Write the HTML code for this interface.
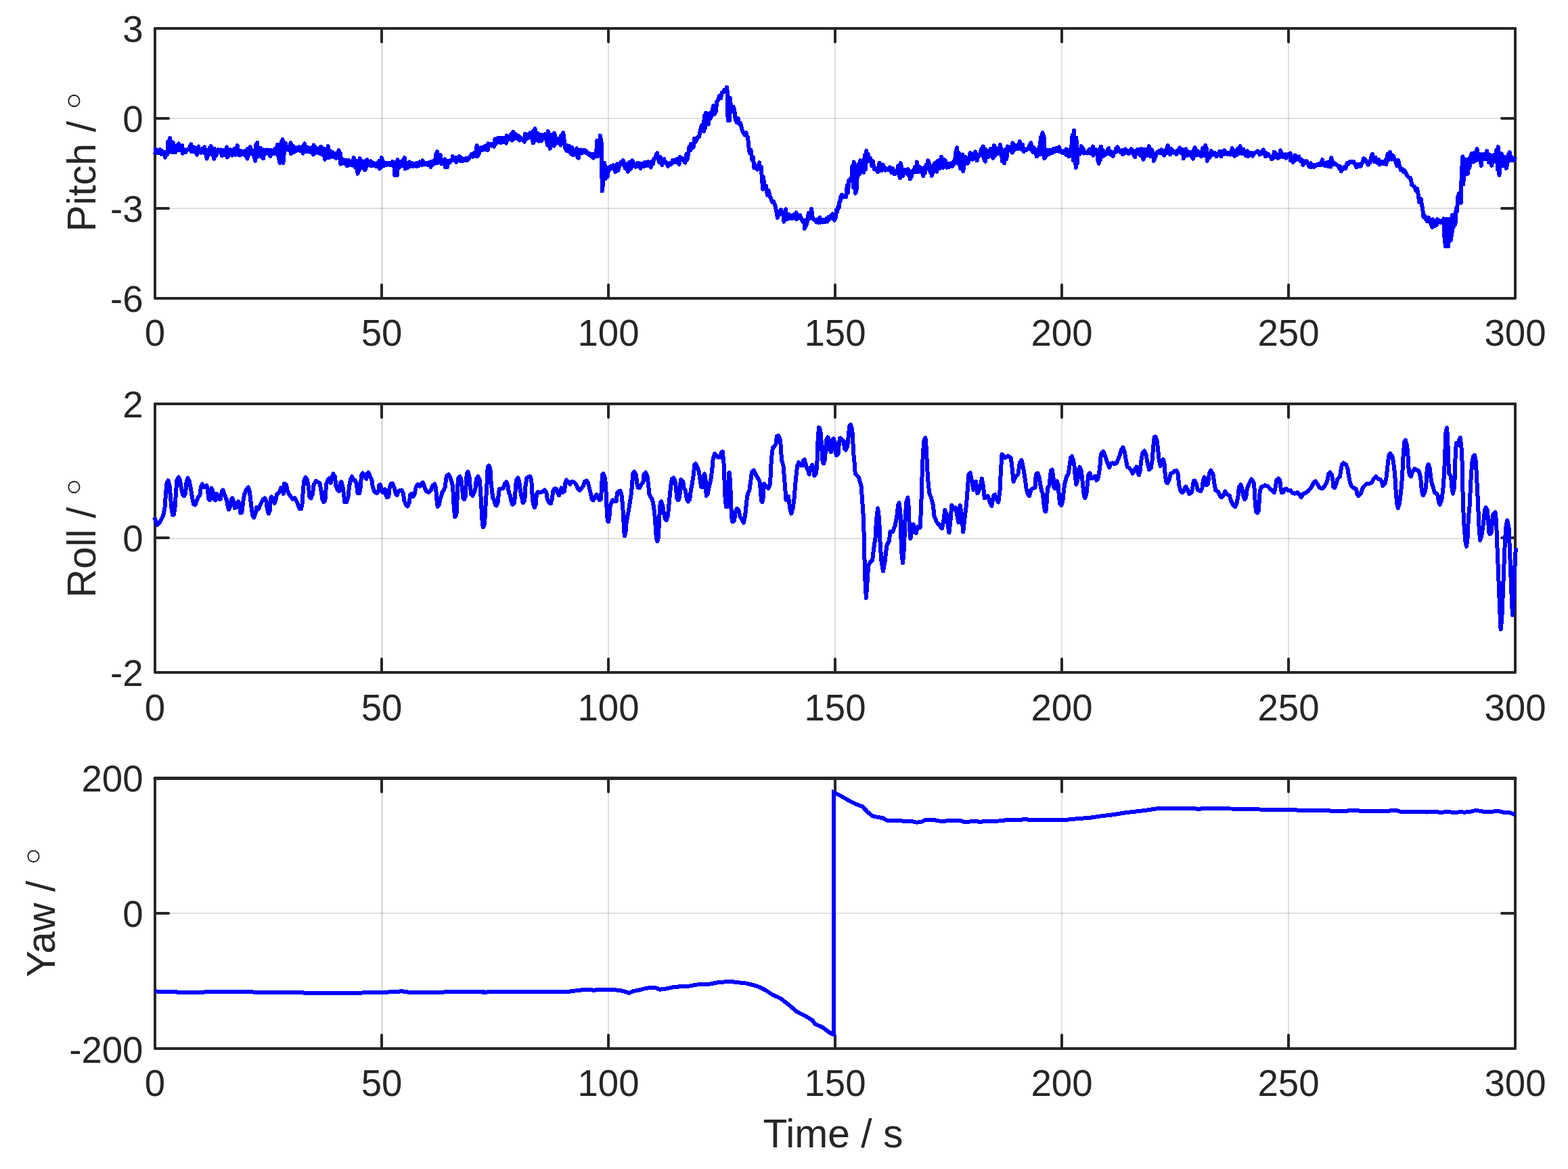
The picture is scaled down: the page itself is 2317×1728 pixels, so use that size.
<!DOCTYPE html>
<html lang="en"><head><meta charset="utf-8"><title>Pitch, Roll and Yaw versus Time</title>
<style>
html,body{margin:0;padding:0;background:#fff;}
body{width:2317px;height:1728px;overflow:hidden;}
svg{display:block;}
text{font-family:"Liberation Sans",Arial,Helvetica,sans-serif;fill:#262626;}
.t{font-size:54.6px;}
.l{font-size:58.8px;}
.d{font-size:71px;font-family:"DejaVu Sans",sans-serif;font-weight:200;fill:#161616;stroke:#fff;stroke-width:0.8px;}
.ax{stroke:#262626;stroke-width:4;fill:none;stroke-linejoin:round;stroke-linecap:round;}
.tk{stroke:#262626;stroke-width:4;fill:none;stroke-linecap:round;}
.gv{stroke:#262626;stroke-opacity:0.15;stroke-width:3;fill:none;}
.gh{stroke:#262626;stroke-opacity:0.15;stroke-width:2;fill:none;}
.c{stroke:#0000ff;stroke-width:6;shape-rendering:crispEdges;fill:none;stroke-linejoin:round;stroke-linecap:butt;}
</style></head><body>
<svg width="2317" height="1728" viewBox="0 0 2317 1728">
<rect x="0" y="0" width="2317" height="1728" fill="#ffffff"/>
<g>
<path class="gh" d="M899 42V441M1234 42V441M1569 42V441M1904 42V441"/>
<path class="gv" d="M564.5 42V441"/>
<path class="gh" d="M229 175H2239M229 308H2239"/>
<path class="tk" d="M564 42v20M564 441v-20M899 42v20M899 441v-20M1234 42v20M1234 441v-20M1569 42v20M1569 441v-20M1904 42v20M1904 441v-20M229 175h20M2239 175h-20M229 308h20M2239 308h-20"/>
<path class="ax" d="M229 42V441H2239V42"/>
<path class="ax" style="stroke-width:4" d="M229 42H2239"/>
<clipPath id="cp0"><rect x="225" y="42" width="2018" height="399"/></clipPath>
<path class="c" clip-path="url(#cp0)" d="M229.3 228.5L230 221.1L232.1 221.6L233.7 226.5L235.5 226.4L236.8 221.2L238.1 227.9L239.3 222.7L240.6 225
L241.9 228.7L243.4 225.2L244.1 232.6L247 224.7L247.6 227.9L248.2 209.2L248.8 224.6L251.1 204.2L251.8 224.3
L254.5 224.8L255.4 210.3L256.3 213.8L257.1 225.3L259.3 225L261.1 215.3L263.4 222.3L264.1 212.2L265.9 221.8
L267.4 216.3L269.3 215.3L270 226.7L272.5 221.3L273.8 225.4L275.1 222.8L276.4 221.3L277.7 220.7L279.1 220.8
L282.2 213.3L282.9 224.5L284.7 224.3L286.2 217.3L287.8 217.9L289 225.9L290.4 218.6L291.1 228.7L293.3 216.5
L294 223.4L296.9 225.7L298.7 219.9L301.5 226L302.2 217.3L305.6 234.6L306.3 222.4L309.1 228.5L310 218.3
L310.9 227.4L311.6 215.9L313.3 220.2L314.6 228.4L316.2 234.6L316.9 219.9L319.2 230.6L321 222.6L322.7 221.2
L324.5 224.4L326.4 221.5L327.8 230.2L329.2 222L330.5 229.1L331.9 221.7L333.3 228.9L335 217.3L335.7 232.6
L338 229.7L339.7 221.3L341.8 222.5L343 229.6L344.1 222.4L345.3 228.1L346.5 219.9L347.7 229L350.8 215.1
L351.5 228.6L354.7 229.5L355.9 222.9L357.1 224.4L358.2 227.8L359.4 223.8L360.6 228.3L362.2 229.8L363.7 222.4
L365.5 234.6L366.2 219.9L369 228L369.7 217.1L371.1 227.3L372.3 221.8L373.5 222.8L374.7 228.7L377.3 237.7
L378 214.7L380.2 211L380.9 231.8L382.5 218.3L383.8 229.9L385.2 218.8L386.5 231.5L389 234.4L389.7 221.4
L391.1 228.1L392.3 222.7L393.4 226.5L394.6 221.5L396.2 222.1L397.7 227.6L399.6 230.9L400.3 221.9L402.1 222.8
L403.6 227.1L405.2 220.8L406.4 227.4L407.5 219.2L408.7 226.5L409.9 213.5L411.1 229.8L413.6 240.8L414.3 214.1
L417.7 206.3L418.4 240.8L420.3 220L421.8 211.5L423.9 220.6L425.2 219.1L426.5 222.2L427.9 216.9L429.5 211.2
L430.2 227.3L431.8 224.9L433.1 216L434.5 225L435.8 218.3L437.3 223L438.8 218.5L440.3 222.3L441.7 217.4
L443.6 223.2L445.4 217.4L447.7 226.7L448.4 216.3L450 212.4L450.7 224.4L452.6 217L454 223.6L455.5 218.2
L457 224.5L458.9 225L460.6 217.8L462.9 228.5L463.6 214.4L465.5 226.1L467 218.4L468.6 220L469.7 226.2L470.9 226
L472.1 219.9L473.5 227.5L474.2 216.5L476.1 220.4L477.5 229.2L479.4 220L480.1 235.8L481.5 221.8L482.6 230.8
L484 233L484.7 216.2L487.3 232.7L488.5 223.4L489.7 225.8L490.8 230.9L492 225.3L493.2 232L495.5 227.1
L496.7 233.8L497.9 233.3L499.1 226L500.5 222.1L501.2 233.8L502.8 226L503.5 242.6L505.4 240L506.8 235.5
L509.6 241.7L510.8 236.8L512.2 237.6L512.9 245.5L515.1 236.5L515.8 243.8L518.7 239.2L520.5 244.6L522.8 233.2
L523.5 243.9L525.3 247.8L526.8 237.7L528.6 256.7L529.3 238.6L531 251.7L531.7 234.1L534 238.2L535.7 247.9
L538.6 238.4L539.3 251.4L541.6 246.3L542.3 236.1L544.7 243.8L546.2 240.6L548 238.2L548.7 245.5L551.6 240.7
L553.4 244.8L555.4 245.9L556.6 241.4L557.8 245.8L558.9 240.6L560.3 237.7L561 249.6L563.3 246.5L564 233.2
L567.1 245.2L568.3 240.3L569.5 240.9L570.7 244.3L571.8 243.9L573 241.1L574.2 241.4L575.4 243.5L576.5 240.6
L577.7 244.3L579.7 244.6L580.4 238.6L582.6 242.5L583.3 259L586.8 259L587.5 236.1L589.7 248L591.5 238.7
L593.9 245.3L595.6 237.3L597.9 233.2L598.6 249.6L600.9 240.7L602.7 247.8L604.9 239.4L605.6 245.8L607.5 245.6
L609 241.3L610.6 246L611.8 241.9L612.9 241.9L614.1 245.4L615.3 245.8L616.4 240.9L618.8 245.3L620 239.3
L621.1 239.9L622.3 243.5L623.7 243.9L624.4 237.3L627 243.3L628.2 241L629.4 241.4L630.5 243.2L631.7 241.1
L632.9 243.9L634.1 240.4L635.2 244.2L636.6 246.7L637.3 238.8L639.8 243.3L641.2 237.2L642.7 241.5L644.2 228.7
L646 224.1L646.7 240.7L649 239.6L650.8 228.9L652.5 242.4L654.3 238.1L657.2 235.3L657.9 247.3L660.7 247.3
L661.4 237.9L664.3 240.7L666 236.6L668.3 237L669 231.2L670.9 233.4L672.4 236.7L674.2 239.7L674.9 232.5
L676.3 237.3L677.5 233.2L678.9 231.2L679.6 237.8L681 238L682.2 233.5L683.4 238.2L684.5 234.7L686.1 235
L687.6 237L689.1 234.1L690.5 237.1L693 234.8L694.8 230.7L697.2 227.8L698.9 231.9L700.7 225.6L702.4 230.6
L704.7 215.1L705.4 231.4L707.7 226.7L709.5 219.5L711.5 218L712.7 221.9L713.9 217.8L715.1 220.6L716.2 216.1
L717.4 220.7L720.6 222L721.3 212.4L724.4 215.3L725.6 213.3L726.8 215.4L728 213.5L729.4 213L730.1 216.8
L731.5 205.5L732.6 213.1L733.8 210.9L735 204.2L736.2 205.2L737.3 209.8L738.5 203.8L739.7 211.3L740.8 204.5
L742 210L743.2 203.6L744.4 210.3L745.5 203.6L746.7 209.3L748.1 211.5L748.8 200.4L750.2 207.4L751.4 201.9
L752.6 205.5L753.8 201.4L755.8 197.5L756.5 207.6L758.1 195L758.8 205.8L762 198.2L763.2 204.5L764.3 204.8
L765.5 200.4L766.9 201.1L767.6 207.6L770.5 204.6L772.3 207L775.1 209.7L775.8 197.7L777.2 200.2L778.4 205.2
L779.6 204.6L780.8 198.8L782.8 196.6L784.6 203.3L786.9 194.4L787.6 211.5L789.8 208.2L790.5 190.1L792.1 207.2
L793.4 196.3L794.8 197.1L796.1 208.8L798.1 198.9L799.8 208.6L801.6 199.3L803.4 205.2L805.1 198.2L806.9 204
L809.2 214.9L809.9 194.2L812.1 201.1L812.8 219.7L814.7 199.4L816.1 212.2L818.6 215.6L819.3 196.6L821.5 212
L823.3 204.9L825.2 204.9L826.7 212L828.5 214.4L829.2 200.4L831.5 212.1L832.2 196.2L834 209.5L835.5 219.7
L837.1 222.5L838.3 214.9L839.5 223L840.6 217L841.8 216L843 226.6L844.1 227.9L845.3 217.7L847.4 229.1
L849.1 222.4L852 219.4L852.7 231.4L854.9 233.8L855.6 222.3L858.2 221.5L859.4 226.5L860.6 221.8L861.8 225
L862.9 224L864.1 221.6L865.3 225.7L866.4 223.5L867.6 225.1L868.8 227.5L870 228.7L871.1 226.8L872.3 227.6
L873.5 230.9L876.1 227.9L876.8 233.8L879.9 230.6L881.1 226.1L882.5 207.7L883.2 231.4L886.1 225.9L886.8 200.4
L889 213.3L889.7 282.5L891.1 271.3L892.3 240.7L893.4 241.1L894.6 264.3L896.4 247.7L897.6 261.3L898.7 253.8
L899.9 247.5L901.5 250L903 245.5L905.4 248.9L906.1 244.1L909.5 254.3L910.2 250.5L912.1 242.3L913.5 252
L915.5 244.2L917.2 240.1L920.1 243.4L920.8 237.3L923.7 248.5L925.4 242.3L927.7 253.7L928.4 246.4L929.8 240.1
L931 250.7L933.6 246L934.3 237.3L937.2 243.5L939 246.7L941.8 245.9L942.5 240.6L943.9 242.5L945.1 245.8
L946.5 248.7L947.2 241.6L948.6 246.3L949.8 241.7L951 246.3L952.1 240.4L953.8 239.8L955.2 245.1L956.8 244.1
L958 239.1L959.2 244.6L960.4 239.8L961.8 247.5L962.5 239.4L964.8 242.4L966.5 234.4L968.6 233.5L969.7 228.5
L971.2 226.3L971.9 232.3L974.1 240L975.9 232L978.2 244.4L978.9 238L981.2 235.1L981.9 239.8L983.4 239.1
L984.7 241.9L986.3 241.5L987 245.6L990.1 240.6L991.9 243L994 236.8L995.2 240L996.5 239.2L997.8 236.6
L999.1 239.7L1000.3 235.2L1003.7 242.7L1004.4 232.2L1007.5 233.7L1009.3 235.8L1012.4 240.5L1013.1 234.5
L1014.4 227.8L1015.5 236.2L1017.1 227.1L1018.6 216.6L1020.4 221.8L1021.1 213L1023.8 218.4L1024.9 216.5
L1026 204.9L1027.1 210.5L1029.3 206.5L1031.1 202.7L1032.9 202.6L1034.7 193.2L1036.7 185.5L1038.2 192.8
L1040 194L1040.7 171L1042.2 189.2L1042.9 166.8L1045.4 171.2L1046.9 183.8L1048.3 167.5L1049.8 175.3
L1051.3 170.8L1052.7 162.5L1054.2 156.1L1055.6 169.2L1057.6 165.2L1059.4 149.9L1061.2 147.9L1063 141.8
L1064.9 145.4L1066.7 137.1L1068.5 136.7L1070.3 132.7L1073.4 135.7L1074.1 129.1L1074.9 136.1L1075.6 178.1
L1077.8 178.1L1078.5 144.3L1079.8 154.6L1080.8 163.4L1082.5 165.2L1083.9 157.9L1085.4 164.7L1086.8 177.3
L1088.8 180.7L1090.6 175.1L1092.6 183.6L1094.1 181.7L1095.6 188.1L1097 193.2L1099.2 197.7L1100.6 199.5
L1102.5 196.2L1103.2 200.6L1105 202.8L1106.4 217.6L1107.9 226.6L1109.4 221.5L1111.5 236.9L1113 232.9
L1114.4 248.5L1115.9 244.5L1118.4 244.7L1119.1 250.7L1122.1 240.2L1122.8 248.7L1124.8 246.8L1125.9 263.7
L1127.2 279.7L1127.9 261.1L1130.2 279L1132 275L1133.9 288.6L1135.7 281.4L1137.5 290.2L1139.3 293.7
L1141.1 298.5L1142.9 297.7L1145.7 304.6L1147.1 311.9L1148.9 321.9L1149.6 313.4L1151.2 313L1152.5 316.9
L1154 309.9L1154.7 315.3L1157.7 314.1L1158.4 327.7L1161.3 309.2L1162 324L1164.6 323.6L1165.9 316.9
L1167.2 322.4L1168.4 318.8L1169.7 323.2L1171 318.7L1172.8 317.5L1174.4 322.6L1176.5 314.3L1177.2 324
L1180.3 320.1L1182.1 318.2L1184 323L1185.8 327L1188.2 325.5L1188.9 337.8L1192.1 331.6L1193.6 321.2L1195 315
L1196.5 323.3L1198.3 318.9L1199 308.5L1200.9 322.6L1202.3 324.4L1205.3 325.7L1206.6 328.6L1207.8 324.3
L1209.1 328.9L1210.7 329.4L1211.4 321.5L1212.9 328.4L1214.2 324.8L1215.5 328.6L1216.7 325.7L1218.3 324.8
L1219.7 327.7L1221.2 323L1222.6 327.6L1224.1 321.1L1225.5 324.1L1227 321.3L1228.4 318.4L1230.1 316.2
L1230.8 322.9L1232.5 320.1L1233.2 325.7L1234.7 321.9L1235.9 310.4L1237.1 313L1238.3 306L1239.7 306.6
L1240.6 297.8L1241.5 298.3L1242.4 290.4L1244 288L1244.7 291.9L1247.4 289.8L1248.6 291L1250.1 291.3
L1250.8 285.1L1251.8 274.1L1252.7 285.6L1253.6 276.2L1254.5 266.5L1255.9 267.6L1257.1 263.6L1258.3 264.8
L1259.5 245.2L1261 277.1L1261.7 239.4L1263.4 246.4L1264.1 285.8L1265.7 279.7L1266.6 248.5L1267.5 261.3
L1268.4 242.6L1270.6 256.8L1271.3 237.2L1272.8 241.2L1274 251.9L1275.5 242.4L1276.2 254.9L1277.7 229.6
L1278.9 250.1L1280.3 223L1281 239.2L1282.5 227.4L1283.7 235.4L1284.9 238.4L1286.1 233.5L1288.5 245.2
L1289.8 238.2L1291 246.2L1292.2 250.5L1294.6 249.5L1295.8 252.1L1297.3 254.3L1298 248.7L1299.7 240.6
L1300.4 252.5L1302.8 252.2L1304.6 243.3L1306.4 247.9L1308.2 251.8L1310 249.3L1311.8 251L1314.2 250.8
L1314.9 247.2L1317.3 255.1L1319.1 248.9L1321.5 257.4L1322.2 252.8L1324.9 255.9L1326.1 251.1L1327.3 244.6
L1328.5 257.5L1330 263.4L1330.7 241.2L1332.6 248.6L1334.1 260.2L1335.7 254.3L1337 250.9L1338.2 255.3
L1339.4 251.7L1340.8 257.5L1341.5 250.2L1343.9 254.2L1344.6 264.6L1346.5 261.9L1348 253L1350 254.8
L1351.8 246.8L1354.2 254L1354.9 239.4L1357.2 254.2L1359 246.7L1361 248.2L1362.5 253.9L1364.4 260.4
L1365.1 248.4L1367.1 255.3L1368.6 243.8L1370.5 247.4L1371.2 237.2L1373.3 242.6L1374.5 254.1L1375.9 246.2
L1376.6 259.8L1378.6 255.3L1380.1 243.8L1381.7 240.7L1383 248.7L1384.4 253.7L1385.1 238.6L1387 237.2
L1388.5 249.2L1391.1 231.5L1391.8 247.2L1393.7 247.9L1395.2 235.5L1397.2 237.5L1399 247.7L1401.1 241.6
L1402.3 247.3L1403.5 245.6L1404.7 242.3L1405.9 241.3L1407.2 245.7L1409 243L1410.2 236.8L1411.4 234.8
L1412.6 223.2L1414.1 218.2L1414.8 240.7L1416.8 225.7L1418.1 244.4L1419.3 249.5L1420.5 232.1L1422.5 228.5
L1423.2 253.1L1425.2 240.2L1426.7 232.3L1429.2 234.4L1429.9 241.6L1432.8 234.3L1433.5 226L1436.5 227.8
L1437.2 235.6L1440.7 233L1441.4 224.2L1443.7 237.4L1444.4 228.6L1446.9 230.6L1448.5 226.7L1450.1 219.9
L1451.3 229.6L1452.8 216.4L1453.5 233.1L1455.8 238.6L1456.5 220.8L1459.1 225.9L1460.6 232.1L1462.1 230.7
L1463.6 220L1466.7 219.7L1467.4 233.8L1469.1 215.1L1469.8 230.8L1472.2 219L1474 226.9L1477 227.5L1477.7 213.9
L1479.6 222.2L1481 238L1483.5 222.3L1484.2 241.4L1486.2 220.8L1487.3 235.3L1488.7 216.5L1489.4 223.4
L1491.7 217.5L1493.5 222.9L1495.8 225.6L1496.5 211.2L1498.8 222L1500.5 214.8L1502.3 214.6L1504.1 220.4
L1506.9 209.1L1507.6 218.8L1509.5 220.8L1510.9 213.7L1512.8 224.4L1513.5 221.1L1516.4 222.2L1518.1 219.9
L1520 220.4L1521.5 214.6L1523.4 211.2L1524.1 219.6L1526.4 225L1528.1 218.3L1531 225.1L1531.7 231.4
L1534.3 228.9L1535.5 217.9L1536.6 224.7L1537.8 203.3L1539.8 228.4L1540.5 196.2L1542.7 203L1543.4 234.4
L1544.8 231.4L1546 221.2L1547.2 229.2L1548.4 221.9L1549.5 222.2L1550.7 227.6L1551.9 221.7L1553.1 226.5
L1554.2 225.9L1555.4 220.9L1556.6 220.1L1557.8 224.6L1558.9 223.6L1560.1 219.1L1561.7 219.1L1563.2 223.4
L1565 217.3L1565.7 224L1568 222.4L1569.8 226.1L1571.5 223.5L1573.3 226.8L1575.6 220.4L1576.3 229.5L1579.1 222
L1579.8 231.4L1582 226.7L1582.8 216.5L1583.7 219.2L1584.6 199.4L1586.2 237.2L1586.9 193L1589.7 247.9
L1590.4 203.7L1591.8 241.6L1593 222.8L1594.1 220.8L1595.3 228.3L1597.3 222.8L1598 216.2L1600.8 220.4
L1601.5 226.7L1603.4 224.5L1604.9 226.4L1606.8 226.6L1608.5 222.5L1610.3 220.6L1612 227.3L1614.9 216.5
L1615.6 229.7L1618.8 220.6L1620 227.3L1621.1 224L1622.3 236.8L1623.7 241.7L1624.4 220.3L1626.1 236.1
L1626.8 216.5L1628.2 231.9L1629.4 221.3L1631.4 230L1633.2 225L1635.1 227.5L1636.6 221.6L1638.4 219.2
L1639.1 227.8L1641 223.8L1642.4 228.8L1644.9 230.9L1645.6 225L1648.1 225.1L1649.3 219.3L1650.7 224
L1651.4 217.3L1653.7 221.8L1655.5 225L1658.4 222.2L1659.1 228.5L1662.5 225.4L1663.2 220.3L1664.6 225.3
L1665.8 222.5L1667.2 222.5L1667.9 227.3L1670.7 225.4L1671.4 220.3L1673.8 222.8L1675.3 228.7L1677.1 232
L1677.8 224.1L1681 220.6L1682.2 227.3L1683.4 221.4L1684.5 227.8L1685.7 230.2L1686.9 220.1L1689.5 235.8
L1690.2 221.1L1692.5 220.6L1694.2 230.3L1697.1 225.9L1697.8 216.2L1700.1 231.4L1701.8 221.2L1704.1 228.5
L1704.8 237.9L1707.7 231L1709.5 225.2L1711.2 226.2L1713 222.9L1715.3 226.5L1716 221.2L1719.4 222.8
L1720.1 229.7L1721.9 227.8L1723.4 220.7L1725.9 215.1L1726.6 224.7L1728.8 228.5L1729.5 219.6L1732.6 222.4
L1733.8 225.6L1735 226.2L1736.2 224.1L1737.6 224.7L1738.3 228.5L1739.7 225.3L1740.8 222L1742.3 223.1
L1743 218.3L1745.5 226.3L1746.7 220.5L1748.1 223.4L1748.8 234.4L1752.2 220.3L1752.9 230.5L1755.8 224.3
L1757.6 228.9L1759.5 224.7L1760.9 230.9L1762.8 234.6L1763.5 222.4L1765.7 218L1766.4 230.2L1769.5 222.9
L1770.9 229.2L1772.2 225.1L1773.5 229L1775.1 231.4L1775.8 225.6L1777.2 218.7L1778.4 228L1780.4 229.8
L1781.1 215.1L1783.3 220.8L1784 237.9L1785.9 227.5L1787.4 233.3L1789.8 223.2L1790.5 228.8L1792.8 228.6
L1794.6 225.8L1796.8 227.1L1797.5 231.4L1800.4 227.8L1802.2 223.7L1804.5 231.4L1805.2 223.6L1808.6 228.2
L1809.3 222.4L1812.5 226.7L1813.6 227.7L1814.8 226.5L1816 227.9L1817.1 225.8L1818.3 228.6L1820.9 219.2
L1821.6 228.3L1824.4 230.6L1825.1 222.9L1827.7 228.7L1828.9 220L1830.1 227L1831.2 219.1L1832.6 216.2
L1833.3 225.9L1835.6 227.3L1837.4 220.6L1839.2 227.1L1840.9 230.3L1843.2 223.2L1843.9 231.4L1846.2 229.1
L1848 225.9L1850.3 226.5L1851 230.9L1853.2 227L1855 225.1L1857.3 225.3L1858 223.2L1860.8 224.7L1861.5 228.5
L1863.1 226.8L1864.5 223.8L1866.1 226.5L1866.8 221.2L1870.2 231.4L1870.9 226.1L1873.8 227.6L1875.6 230.4
L1878.4 232.8L1879.1 235.5L1881.9 233.1L1882.6 224.7L1885.1 226.9L1886.6 229.3L1888.4 233.8L1889.1 229
L1891.3 231.8L1892 222.4L1894.6 227.8L1895.8 231.9L1897 231.6L1898.1 228.9L1899.6 228.3L1900.3 233.8
L1902.5 229.4L1904.3 227.9L1906.6 226.5L1907.3 237.4L1910.1 232.3L1910.8 239.7L1913.6 229.4L1914.3 236.8
L1915.8 231.4L1916.9 235.5L1918.1 234.9L1919.3 231.5L1921.3 237.6L1923.1 236.1L1925.4 243.8L1926.1 237.9
L1928.9 240.9L1930.7 238.1L1933.1 242.5L1934.8 246.6L1937.1 241.5L1937.8 247L1940.4 244L1941.6 246.8
L1942.7 244L1943.9 245.3L1945.1 244.7L1946.3 243.2L1947.4 244.1L1948.6 242.9L1949.8 242.1L1951 244
L1954.1 236.1L1954.8 243.3L1957.7 245.2L1959.5 240.3L1961.5 240.3L1962.7 245.8L1963.9 244.2L1965.1 238.7
L1966.5 246.7L1967.2 233.2L1969.7 243.2L1970.9 240L1972.1 243.4L1973.3 241.9L1974.4 243.1L1975.6 244.2
L1976.8 244.7L1978 246.3L1979.3 249.1L1980.1 245.8L1981 247.5L1981.7 253.2L1984.3 249.6L1986.1 247.1
L1988.3 248.7L1989.6 244.8L1990.9 240.7L1992.2 242.6L1994.4 240.3L1995.1 239L1996.8 240.2L1998.3 239.3
L2000.1 239L2000.8 240.3L2004.5 247.4L2005.2 243.4L2007.9 242.8L2009.5 246.2L2011.2 244.9L2012.5 241
L2014.1 239.6L2014.8 234.2L2016.8 235.6L2018.4 237.6L2021.7 243.6L2022.4 240.7L2024.4 240.4L2026 232.7
L2028 227.8L2028.7 234.9L2030.8 239.3L2032.4 232.6L2033.9 237.7L2035.5 241.1L2037.6 236.2L2038.3 243
L2040.3 242.5L2041.9 239.5L2043.5 239L2045.1 242.4L2047.7 236.2L2048.4 243L2050.6 227.8L2051.9 236.4
L2053.5 235.1L2054.2 224.8L2056.7 235.6L2058.5 229.9L2060.5 234.6L2062.3 238.5L2064.4 245.3L2066.2 236.7
L2068.2 246.2L2070 251.1L2072 249.9L2073.8 253.8L2075.9 252.3L2077.5 255.2L2079.1 259.6L2080.7 261.2
L2082.4 263.2L2083.7 262.6L2085 265.8L2086.2 273.4L2088.5 274.8L2090.3 275.9L2092.4 281.9L2094 279
L2095.6 286.9L2097.2 298.7L2099.6 293.9L2100.8 302.5L2102.1 307.5L2103.4 320.7L2105.1 318.7L2106.7 323.5
L2108.8 327.2L2110.6 321.4L2112.8 325.2L2114.3 331L2116.4 335.8L2117.1 324.2L2119.1 326.7L2120.7 333.9
L2123.4 331.5L2124.1 324.2L2126.6 326L2128.4 328.9L2131.5 325.6L2132.5 329.9L2133.4 323.2L2134.4 350.1
L2136.1 364.4L2136.8 323.9L2139.3 323.9L2140 364.4L2142 323.7L2143.6 355.6L2145.6 343.4L2146.3 317.8
L2147.9 335.6L2149.1 323.7L2150.4 331.6L2151.7 308L2153 312.9L2154.2 291.2L2156.1 285.6L2157.4 297.5
L2159 299.6L2159.7 255.7L2161.5 231.4L2162.2 272.5L2164.8 235.9L2166.6 257.6L2168.8 257L2170.1 235.2
L2171.4 247.9L2172.7 232.2L2174.9 227.2L2176.7 239.6L2179 225.9L2180.3 237.7L2181.8 234.5L2182.5 220
L2185.2 236.4L2186.8 227.8L2188.8 244.9L2189.5 229.3L2192.1 227.7L2193.9 235.3L2196.5 234.3L2197.2 223.1
L2199.8 239.9L2201.4 229.4L2203.5 229.6L2204.2 244.9L2206.8 229.2L2208.4 238.2L2210.2 237.6L2211.4 221.5
L2213 250.7L2213.7 217.2L2215.5 258.9L2216.2 231.1L2218.7 227L2219.4 245.3L2222.2 244.6L2223.5 232.3
L2225.1 233.1L2225.8 248.7L2228 238.6L2229.2 228.2L2230.8 225L2231.5 236.8L2233.5 232.2L2235.1 237.1
L2237.3 236L2238.9 232.1"/>
<text class="t" x="229" y="510.7" text-anchor="middle">0</text>
<text class="t" x="564" y="510.7" text-anchor="middle">50</text>
<text class="t" x="899" y="510.7" text-anchor="middle">100</text>
<text class="t" x="1234" y="510.7" text-anchor="middle">150</text>
<text class="t" x="1569" y="510.7" text-anchor="middle">200</text>
<text class="t" x="1904" y="510.7" text-anchor="middle">250</text>
<text class="t" x="2239" y="510.7" text-anchor="middle">300</text>
<text class="t" x="211.5" y="61.7" text-anchor="end">3</text>
<text class="t" x="211.5" y="194.7" text-anchor="end">0</text>
<text class="t" x="211.5" y="327.7" text-anchor="end">-3</text>
<text class="t" x="211.5" y="460.7" text-anchor="end">-6</text>
<text class="l" transform="translate(141 342.4) rotate(-90)">Pitch / <tspan class="d" dx="-4.1" dy="10.4">°</tspan></text>
</g>
<g>
<path class="gh" d="M899 597V994M1234 597V994M1569 597V994M1904 597V994"/>
<path class="gv" d="M564.5 597V994"/>
<path class="gh" d="M229 796H2239"/>
<path class="tk" d="M564 597v20M564 994v-20M899 597v20M899 994v-20M1234 597v20M1234 994v-20M1569 597v20M1569 994v-20M1904 597v20M1904 994v-20M229 795h20M2239 795h-20"/>
<path class="ax" d="M229 597V994H2239V597"/>
<path class="ax" style="stroke-width:4" d="M229 597H2239"/>
<clipPath id="cp1"><rect x="225" y="597" width="2018" height="397"/></clipPath>
<path class="c" clip-path="url(#cp1)" d="M228 764.8L230 769.8L232.5 775.8L236 772.8L239 766.8L241.5 760.8L243.5 749.9L245 729.9L246.5 713.9L248.5 710.4
L250.5 717.9L252 734.9L253.5 751.9L255 761.3L257 760.8L258.5 749.9L260 727.9L261.4 709.9L263.9 705.4
L265.9 709.9L267.9 721.9L269.9 730.9L271.9 733.4L273.9 729.9L275.4 713.9L277.4 706.4L279.9 711.9L281.9 721.9
L283.9 734.9L285.9 744.9L288.4 746.4L290.9 739.9L292.9 734.9L295.4 731.9L296.9 719.9L298.9 715.4L301.4 719.9
L302.9 718.9L305.4 717.4L306.9 723.9L308.4 737.9L309.9 739.4L311.4 727.9L312.4 721.4L314.4 725.9L315.9 736.9
L318.4 739.4L319.9 729.9L321.9 732.9L323.9 737.9L325.9 737.9L327.9 725.9L329.4 724.4L331.4 729.9L333.3 734.9
L335.3 739.9L336.8 749.9L338.3 753.4L340.3 747.9L341.8 737.9L343.3 736.4L345.3 741.9L346.8 750.9L349.3 749.9
L350.8 742.9L352.3 741.4L354.3 749.9L355.3 758.3L357.3 757.8L358.8 744.9L360.8 731.9L363.8 723.9L366.8 720.4
L368.8 725.9L370.3 739.9L371.8 751.9L373.3 761.8L375.3 765.3L377.3 759.8L379.3 749.9L381.8 752.9L383.8 747.9
L386.3 742.9L388.8 737.9L391.3 736.4L393.3 739.9L394.8 751.9L396.8 759.3L398.8 754.9L399.8 736.9L401.3 734.4
L403.7 739.9L405.7 743.9L407.7 737.9L409.2 729.9L411.7 728.9L413.7 725.9L415.2 720.9L417.2 721.9L418.7 729.9
L420.2 714.9L422.7 715.9L424.7 724.9L426.7 729.9L429.7 733.9L432.7 737.9L435.7 735.9L437.7 739.9L440 744.9
L442.5 751.9L445 752.4L446.5 744.9L447.5 729.9L449 711.9L451.5 705.4L454 709.9L456 719.9L457.5 734.9
L459.5 736.4L462 729.9L463.5 716.9L467 710.9L470 712.9L472.4 713.9L474.4 724.9L476.4 737.9L478.4 742.4
L480.4 739.9L481.4 724.9L482.4 714.9L484.9 708.9L486.9 706.9L488.9 713.9L490.4 705.9L492.4 700.4L494.9 704.9
L496.4 717.9L498.9 723.9L500.9 726.4L502.9 713.9L504.4 712.4L506.4 718.9L507.9 729.9L509.4 742.4L511.9 742.4
L514.4 734.9L515.9 719.9L517.9 708.9L519.9 704.4L522.4 709.9L524.9 709.9L526.9 714.9L528.4 728.9L530.9 729.4
L532.9 719.9L533.9 702.9L535.9 699.4L538.9 702.9L541.4 707.9L542.8 699.9L544.3 698.4L546.8 703.9L549.3 708.9
L550.8 719.9L553.3 726.9L556.8 729.4L559.3 725.9L560.3 716.9L561.8 716.4L563.8 721.9L565.3 727.9L566.8 725.9
L568.8 723.4L570.3 731.9L571.8 735.4L574.3 733.9L575.8 719.9L577.8 714.9L579.8 714.4L582.3 719.9L584.8 729.9
L586.8 731.9L588.8 725.9L593.3 724.4L595.8 728.9L597.3 739.9L599.8 745.9L602.3 748.4L604.8 742.9L606.3 730.9
L608.3 729.9L610.8 733.9L612.8 729.9L614.7 719.9L617.7 715.9L620.7 718.9L623.7 713.9L625.2 713.4L627.2 719.9
L629.7 725.9L633.2 727.9L636.7 724.9L639.2 717.9L642.2 715.4L644.2 721.9L645.2 737.9L646.7 748.9L648.7 745.9
L651 735.9L653.5 727.9L656 723.9L658 718.9L659 707.9L660.5 702.9L662.5 701.4L665 704.9L667 710.9L669 717.9
L670 735.9L671 754.9L672.5 764.3L674.5 759.8L675.5 739.9L676.5 714.9L677.5 705.9L679.5 704.4L681.4 708.9
L682.9 721.9L684.4 735.9L685.9 738.4L687.9 732.9L688.9 709.9L689.9 699.9L691.4 697.4L693.4 703.9L694.9 719.9
L696.4 730.9L698.4 732.9L700.9 727.9L702.9 719.9L703.9 707.9L706.4 704.4L708.9 709.9L709.9 724.9L710.9 739.9
L711.9 759.8L712.9 774.8L713.9 779.3L715.9 774.8L716.9 759.8L717.9 739.9L719.4 719.9L719.9 699.9L720.9 689.9
L722.4 688.4L724.4 692.9L725.4 709.9L726.9 724.9L728.4 735.9L730.4 739.9L731.9 745.9L733.4 747.4L735.4 743.9
L736.9 729.9L737.9 722.9L740.9 722.4L743.9 721.9L745.9 714.9L748.4 712.4L750.4 717.9L751.9 727.9L753.8 731.9
L755.3 739.9L757.3 745.9L759.8 743.9L761.3 729.9L762.8 709.9L765.3 706.4L767.3 711.9L768.8 724.9L770.8 734.9
L772.8 743.4L775.3 739.9L776.3 719.9L778.3 706.9L780.8 704.9L783.3 704.4L785.3 709.9L786.3 727.9L787.8 744.9
L789.8 750.4L791.8 745.9L792.8 729.9L794.8 727.4L798.8 727.9L801.8 726.9L804.8 724.4L807.3 727.9L808.8 737.9
L811.3 742.9L813.8 744.4L815.8 737.9L817.3 725.9L819.3 722.4L821.8 722.4L824.2 728.9L826.2 732.4L827.7 725.9
L829.7 720.9L831.7 727.9L834.2 725.9L835.2 713.9L837.2 709.4L839.7 712.9L842.2 715.9L845.2 711.9L848.7 712.9
L851.7 716.9L854.2 722.9L856.7 724.9L859 721.9L862 717.9L864 711.9L866.5 710.4L869 713.9L871 721.9L873 729.9
L874.5 737.9L876.5 739.4L879 735.9L881.5 730.9L884 734.9L886 739.4L888 737.9L889 719.9L890 701.9L891.4 699.9
L893.4 704.9L894.9 714.9L895.9 734.9L896.9 759.8L897.9 769.8L898.9 771.3L900.4 764.8L901.4 749.9L902.9 743.9
L905.4 738.9L907.9 740.9L910.9 740.9L911.9 728.9L913.9 726.4L916.4 725.4L918.4 730.9L919.9 744.9L920.9 759.8
L921.9 779.8L922.9 792.3L924.4 787.8L925.4 774.8L926.9 764.8L928.9 754.9L930.9 741.9L932.9 729.9L934.4 711.9
L935.4 699.9L937.4 697.4L939.9 701.9L941.4 714.9L942.9 720.9L944.9 721.4L947.9 715.9L950.4 712.9L951.4 701.9
L953.9 698.4L956.4 702.9L957.9 714.9L959.4 729.9L961.4 734.9L963.8 737.9L965.8 747.9L967.3 759.8L968.8 779.8
L969.8 794.8L971.3 800.3L972.8 794.8L973.8 774.8L974.8 754.9L975.8 742.9L977.3 741.4L979.3 747.9L980.8 757.8
L982.8 766.8L984.8 769.3L986.8 762.8L988.3 747.9L989.8 731.9L991.3 717.9L992.8 707.9L995.3 706.4L997.8 711.9
L999.3 724.9L1000.3 736.9L1002.3 739.4L1004.3 734.9L1005.3 714.9L1006.3 708.9L1009.3 711.9L1010.8 721.9
L1012.8 724.9L1014.8 737.9L1016.8 741.4L1019.3 737.9L1020.8 724.9L1022.8 714.9L1024.8 701.9L1026.3 686.9
L1027.8 685.5L1030.3 689.9L1032.8 696.9L1034.7 709.9L1036.2 719.9L1038.2 719.9L1039.2 703.9L1041.2 700.4
L1042.7 709.9L1043.7 732.9L1045.7 729.9L1047.7 719.9L1050.2 709.9L1052.2 694.9L1053.7 678L1056.2 670.5
L1058.7 674L1062.2 676.5L1064.7 676L1065.7 669L1067.7 667.5L1069.5 684.9L1070.5 709.9L1071.5 734.8L1073 749.3
L1075 748.8L1076 719.8L1077.5 698.4L1079 709.9L1080 739.8L1081 764.8L1082.5 771.3L1085 769.8L1086.5 757.8
L1089 751.8L1091.5 753.8L1093.5 763.8L1096 766.8L1099 772.8L1101.4 759.8L1103.4 739.8L1104.9 729.8
L1107.4 724.8L1109.4 709.9L1110.9 697.9L1113.9 695.4L1116.9 701.9L1119.9 706.9L1122.4 710.9L1123.9 724.8
L1124.9 739.8L1126.4 742.3L1127.9 734.8L1127.9 717.8L1129.4 715.4L1132.4 719.8L1135.4 721.8L1137.9 715.9
L1138.9 699.9L1139.9 677.9L1141.9 661.9L1144.9 658.9L1146.4 656.9L1147.9 645L1149.9 644L1152.4 647.9
L1153.9 659.9L1154.9 679.9L1157.4 687.9L1158.9 704.9L1160.4 724.8L1161.4 738.8L1164.9 733.8L1166.4 744.8
L1167.9 754.8L1169.4 759.3L1171.9 749.8L1173.8 734.8L1175.3 714.9L1176.8 699.9L1178.3 687.9L1180.3 683.4
L1183.3 687.9L1186.3 687.9L1187.3 679.9L1188.8 679.4L1190.3 684.9L1191.8 690.9L1194.3 695.9L1195.8 701.4
L1197.8 690.9L1200.3 687.4L1202.3 694.9L1203.3 703.4L1205.8 699.9L1207.3 689.9L1207.8 669.9L1208.8 645
L1210.3 631.5L1212.3 636L1213.8 654.9L1215.3 679.9L1216.8 685.4L1218.8 679.9L1220.3 659.9L1221.3 649.9
L1223.3 646.4L1225.3 651.9L1226.3 665.9L1228.3 668.4L1229.8 659.9L1230.3 649.9L1231.8 648.4L1233.8 653.9
L1234.8 669.9L1236.3 673.4L1238.8 669.9L1239.8 654.9L1241.3 647.4L1244.7 650.9L1246.7 651.9L1248.2 663.9
L1249.7 665.4L1252.2 659.9L1253.7 645L1255.2 630L1256.7 627.5L1259.2 635L1260.2 649.9L1261.2 669.9
L1262.7 684.9L1263.7 699.9L1269 705.7L1272.6 718.8L1274.3 741.7L1276.1 768L1276.9 803.1L1277.8 838.2
L1278.7 864.6L1279.9 883.9L1281.3 864.6L1283.1 836.5L1285.7 831.2L1289.2 827.7L1291 811.9L1293.6 794.3
L1295 768L1297.1 751.3L1299.2 768L1300.6 803.1L1302.4 829.5L1305 844.4L1307.7 829.5L1310.3 806.6L1313.8 799.6
L1315.6 785.6L1319.1 786.4L1322.6 776.8L1325.2 764.5L1327 746.9L1328.7 743.4L1330.5 759.2L1331.4 794.3
L1332.6 820.7L1334 832.1L1335.8 811.9L1337.5 768L1339.3 741.7L1341.4 735.5L1342.8 750.4L1343.7 776.8
L1345.4 796.1L1348 780.3L1349.8 775L1351.6 785.6L1353.7 788.2L1355.9 778.5L1359.5 780.3L1361.2 750.4
L1362.1 715.3L1363.8 671.4L1365.6 650.4L1367.4 646.9L1368.8 662.7L1370 689L1371.7 715.3L1373.5 729.4
L1376.1 736.4L1378.8 746.9L1380.5 762.7L1384 771.5L1388.4 776.8L1391.9 781.2L1394.6 768L1396.3 754L1399 761
L1400.7 776.8L1402.5 787.3L1404.6 768L1406.3 746.9L1409.5 752.2L1412.1 750.4L1413.9 759.2L1416.5 772.4
L1418.6 746.9L1420.9 759.2L1423.2 786.4L1425.3 768L1427.9 746.9L1429.7 724.1L1431.4 701.3L1433.7 698.7
L1435.8 710.1L1438.5 724.1L1442 711.8L1444.3 729.4L1448.1 722.4L1450.8 707.4L1453 718.8L1454.8 736.4
L1459.5 732.9L1463 743.4L1465.3 747.8L1468.3 732.9L1470.1 731.1L1472.7 738.2L1475.3 742.5L1477.6 724.1
L1478.8 697.8L1480.6 671.4L1485 676.7L1489.4 674.1L1493.8 676.7L1495.9 694.3L1497.6 711.8L1500.8 704.8
L1504.3 701.3L1506.9 683.7L1509.6 680.2L1512.2 692.5L1515 709.9L1516.5 721.9L1518.5 729.8L1521 733.3
L1523.5 723.9L1526.5 721.9L1529.5 720.9L1530.5 704.9L1531.5 699.9L1533.5 699.4L1535.5 704.9L1537 714.9
L1539 724.9L1540.9 729.8L1542.4 744.8L1543.9 754.8L1545.4 756.3L1546.9 739.8L1547.9 721.9L1550.4 717.9
L1551.9 704.9L1552.9 695.9L1554.9 694.4L1556.4 704.9L1557.4 719.9L1558.9 722.4L1560.4 712.9L1561.9 711.4
L1563.9 717.9L1564.9 734.8L1566.4 744.8L1568.4 747.3L1570.4 739.8L1571.9 724.9L1573.4 714.9L1575.9 704.9
L1578.9 699.9L1580.9 684.9L1582.4 675.9L1583.9 674.4L1585.9 679.9L1587.4 687.9L1588.9 704.9L1590.4 716.4
L1592.4 709.9L1593.4 694.9L1595.4 690.4L1597.4 694.9L1598.9 704.9L1600.4 719.9L1601.9 732.8L1603.4 736.3
L1605.4 729.8L1606.9 714.9L1608.4 701.9L1610.4 699.4L1612.3 706.9L1614.8 706.9L1617.8 703.9L1620.3 710.4
L1622.3 707.9L1624.3 697.9L1625.8 684.9L1626.8 671.9L1628.8 668.9L1630.3 667.4L1632.8 672.9L1634.8 678.9
L1636.8 684.9L1639.3 691.4L1641.3 684.9L1643.8 684.4L1646.8 685.9L1649.8 684.9L1651.8 679.9L1654.3 673.9
L1656.8 664.9L1659.3 661.4L1661.8 667.9L1663.8 679.9L1665.8 689.9L1668.8 691.9L1671.8 695.9L1673.8 699.9
L1676.3 694.9L1679.3 689.9L1681.3 697.9L1682.8 702.4L1684.7 695.9L1686.2 681.9L1688.2 669.9L1691.2 666.4
L1693.7 672.9L1695.7 684.9L1698.2 694.4L1700.7 691.9L1702.7 679.9L1704.2 659.9L1705.7 646L1707.7 645.5
L1709.7 652L1711.2 664.9L1712.7 679.9L1714.7 688.9L1716.7 683.9L1718.7 678.9L1720.5 684.9L1722 704.9
L1723.5 712.9L1725 714.4L1727.5 709.9L1730 699.9L1733 698.9L1735.5 695.9L1738.5 695.4L1740.5 699.9
L1741.5 709.9L1742.5 717.9L1744.5 725.9L1747 728.3L1749.5 725.9L1750.9 720.9L1752.4 719.4L1754.9 723.9
L1757.4 730.3L1760.9 727.8L1762.4 719.9L1763.9 710.9L1765.4 710.4L1767.9 715.9L1769.9 723.9L1773.9 726.4
L1776.4 721.9L1777.9 709.9L1779.4 705.4L1781.4 709.9L1782.9 717.4L1784.9 715.9L1786.9 699.9L1789.4 695.4
L1792.4 700.9L1794.4 714.9L1796.4 724.9L1799.9 726.9L1802.9 732.8L1804.9 735.3L1807.4 732.8L1810.4 726.4
L1813.4 730.8L1816.9 732.8L1818.9 739.8L1821.9 745.8L1824.8 749.3L1827.3 744.8L1829.3 734.8L1830.8 719.9
L1833.3 716.4L1835.3 721.9L1837.3 732.8L1839.3 738.3L1841.3 734.8L1842.8 721.9L1845.8 714.9L1849.3 708.4
L1852.8 713.9L1853.8 724.9L1854.8 744.8L1856.3 756.8L1857.8 758.3L1859.8 754.8L1860.8 739.8L1861.8 724.9
L1863.8 719.9L1866.8 718.9L1869.3 717.4L1873.8 718.9L1876.8 722.9L1879.8 724.9L1882.8 728.3L1884.8 719.9
L1886.3 709.9L1889.3 707.4L1891.3 709.9L1892.3 719.9L1893.7 728.3L1896.2 727.8L1898.7 722.9L1900.7 722.4
L1903.7 724.9L1907.2 724.9L1909.7 728.8L1913.2 729.8L1916.7 727.8L1919.7 730.8L1922.7 735.3L1925.7 729.8
L1929 728.8L1933 725.9L1936.5 721.9L1939 717.9L1941.5 712.9L1944 711.4L1947 715.9L1950 720.9L1953.5 722.4
L1957 718.9L1960 713.9L1961.9 707.9L1963.4 699.9L1965.4 698.4L1967.9 701.9L1969.4 709.9L1970.4 719.9
L1971.9 721.4L1974.4 715.9L1976.4 707.9L1979.9 704.9L1981.4 694.9L1982.9 686.9L1985.4 684.4L1988.9 686.9
L1991.4 692.9L1992.9 702.9L1994.9 712.9L1996.9 718.4L1999.9 720.9L2003.9 722.9L2005.4 729.8L2007.4 733.3
L2010.9 729.8L2013.4 721.9L2016.4 717.9L2018.9 715.4L2023.9 714.9L2027.4 712.9L2030.4 706.9L2033.3 704.4
L2036.3 707.9L2039.8 708.9L2041.8 711.9L2043.3 718.4L2046.3 714.9L2048.3 707.9L2049.8 694.9L2051.3 679.9
L2052.8 671.9L2054.3 670.4L2057.3 673.9L2059.3 684.9L2060.8 697.9L2061.8 709.9L2062.8 729.8L2064.3 744.8
L2065.8 751.3L2067.8 744.8L2069.8 729.8L2071.3 714.9L2072.8 689.9L2073.8 669.9L2075.3 653L2076.8 650.5
L2078.8 657.9L2080.3 669.9L2081.3 689.9L2082.8 701.9L2084.8 704.4L2087.3 697.9L2090.3 692.9L2093.8 694.9
L2096.3 695.9L2098.3 701.9L2099.8 711.9L2100.8 724.9L2102.8 732.3L2105.2 727.8L2107.2 719.9L2108.2 699.9
L2109.2 689.9L2110.7 686.4L2112.7 691.9L2114.2 704.9L2115.7 714.9L2117.7 719.9L2119.7 727.8L2122.2 728.8
L2124.7 732.8L2126.2 742.8L2127.7 745.8L2130.2 739.8L2132.2 724.9L2133.7 704.9L2134.2 696.3L2135.4 667.5
L2136.5 638.8L2137.9 632.4L2139 644.5L2140 673.3L2141.1 699.7L2144 704.3L2145.7 722.7L2146.9 729.6
L2149.2 719.3L2150.1 690.5L2150.9 667.5L2152 654.9L2154.7 658.3L2156.1 650.3L2157.8 646.8L2159.5 661.8
L2160.7 684.8L2161.2 713.5L2162 748L2163.5 776.8L2165.3 799.8L2167 808L2168.7 794.1L2169.9 765.3L2171.6 748
L2172.7 725L2173.9 702L2175.6 681.3L2177.3 674.4L2179.1 672.7L2180.8 681.3L2181.9 702L2183.1 725L2184.2 748
L2185.4 776.8L2187.1 798.8L2189.4 791.8L2191.1 780.3L2192.9 765.3L2194 753.8L2195.7 750.3L2198 754.9
L2199.2 771L2200.3 787.2L2201.5 789.6L2203.8 787.2L2204.9 771L2206.7 759.5L2209.6 757.2L2211 771L2211.9 794.1
L2213 821.8L2214.2 850.5L2215.3 879.3L2216.5 908.1L2217.6 930.5L2219.3 913.8L2220.5 885L2221.6 856.3
L2222.8 827.5L2223.9 798.8L2225.7 775.8L2227.4 769.3L2229.7 781.5L2230.8 810.3L2232 839L2233.1 867.8
L2234.3 896.6L2235.1 909.2L2236.6 885L2237.7 856.3L2238.9 827.5L2239.8 810.3"/>
<text class="t" x="229" y="1064.6" text-anchor="middle">0</text>
<text class="t" x="564" y="1064.6" text-anchor="middle">50</text>
<text class="t" x="899" y="1064.6" text-anchor="middle">100</text>
<text class="t" x="1234" y="1064.6" text-anchor="middle">150</text>
<text class="t" x="1569" y="1064.6" text-anchor="middle">200</text>
<text class="t" x="1904" y="1064.6" text-anchor="middle">250</text>
<text class="t" x="2239" y="1064.6" text-anchor="middle">300</text>
<text class="t" x="211.5" y="616.7" text-anchor="end">2</text>
<text class="t" x="211.5" y="814.7" text-anchor="end">0</text>
<text class="t" x="211.5" y="1013.7" text-anchor="end">-2</text>
<text class="l" transform="translate(141 883.5) rotate(-90)">Roll / <tspan class="d" dx="-4.5" dy="10.4">°</tspan></text>
</g>
<g>
<path class="gh" d="M899 1150.5V1550M1234 1150.5V1550M1569 1150.5V1550M1904 1150.5V1550"/>
<path class="gv" d="M564.5 1150.5V1550"/>
<path class="gh" d="M229 1350H2239"/>
<path class="tk" d="M564 1150.5v20M564 1550v-20M899 1150.5v20M899 1550v-20M1234 1150.5v20M1234 1550v-20M1569 1150.5v20M1569 1550v-20M1904 1150.5v20M1904 1550v-20M229 1350h20M2239 1350h-20"/>
<path class="ax" d="M229 1150.5V1550H2239V1150.5"/>
<path class="ax" style="stroke-width:5" d="M229 1150.5H2239"/>
<clipPath id="cp2"><rect x="225" y="1150.5" width="2018" height="399.5"/></clipPath>
<path class="c" style="stroke-linejoin:miter;stroke-miterlimit:2.5" clip-path="url(#cp2)" d="M229.1 1465.4L254.3 1466.3L292.7 1467.4L304 1466.3L439.4 1466.7L459.8 1468.5L486.9 1468.1L513.9 1468.5
L545.5 1467L586.2 1466.3L592.9 1465.1L608.7 1467.4L620 1467L653.9 1466.7L667.4 1465.6L714.8 1465.8L715 1467
L721.4 1466.3L841.1 1466.1L843.7 1465L851.4 1464.4L861.7 1463.1L874.5 1463.1L877.1 1464L881 1463.1L908 1463.1
L918.3 1464.4L923.4 1465.7L929.2 1467.9L936.3 1465L946.6 1463.1L953 1461.2L959.5 1460.1L968.5 1460.1
L974.9 1462.7L985.2 1461.4L991.6 1459.9L994.7 1459.3L1006.4 1458.1L1019.3 1457.5L1033.4 1454.9L1048.7 1454.6
L1062.8 1451.9L1072.2 1451.4L1078 1450.7L1089.8 1452.2L1101.5 1453.4L1113.3 1456.1L1121.5 1458.7L1130.9 1463.4
L1141.4 1470.4L1153.2 1475.7L1166.1 1485.7L1177.8 1495.7L1189.6 1501.5L1200.1 1508L1204.8 1513.9L1215.4 1518.6
L1224.8 1525.6L1229.5 1528.5L1232 1529.1L1232.2 1171.4L1240.6 1175.5L1254.2 1183.3L1265 1188.8L1274.5 1192.1
L1281.3 1199.6L1289.4 1206.4L1297.5 1208L1304.3 1209.1L1311.1 1212.9L1330 1213.1L1338.2 1214.2L1346.3 1213.8
L1354.4 1215.6L1361.2 1215.2L1368 1211.8L1378.8 1211.8L1389.6 1213.8L1397.8 1213.5L1403.2 1212.9L1419.4 1213.1
L1424.8 1214.9L1433 1214.5L1442.4 1213.8L1447.9 1215.2L1454.6 1213.8L1476.3 1213.5L1484.4 1212.5L1510.6 1211.5
L1514.9 1210.6L1519.2 1211.8L1575.8 1211.8L1592.9 1210.1L1610.1 1208.9L1627.2 1206.3L1644.4 1204.3
L1661.6 1201.5L1678.7 1199.5L1695.9 1197.4L1707.9 1195.5L1716.5 1194.8L1764.5 1194.8L1767.9 1195.7
L1781.6 1195.3L1785.1 1194.8L1814.2 1194.8L1817.7 1195.5L1857.1 1195.7L1860.6 1196.5L1914.6 1197L1918.1 1197.9
L1963.9 1198.2L1967.4 1198.9L1990.3 1198.9L1993.8 1198L2006.2 1198L2009.7 1198.9L2051.9 1198.9L2055.5 1198
L2064.3 1198L2068.7 1199.6L2106.5 1199.8L2108.3 1200.5L2111.8 1199.8L2122.4 1199.8L2125.9 1200.7L2132.9 1200.5
L2136.5 1199.8L2141.7 1200.1L2145.3 1200.7L2155.8 1200.5L2159.3 1199.8L2162.9 1200.7L2171.7 1200.1L2177 1198.7
L2182.2 1197.9L2187.5 1199.1L2192.8 1199.8L2205.1 1199.8L2210.4 1198.9L2215.7 1199.3L2221 1200.7L2229.8 1200.9
L2235.1 1202.6L2238.9 1204.4"/>
<text class="t" x="229" y="1620.4" text-anchor="middle">0</text>
<text class="t" x="564" y="1620.4" text-anchor="middle">50</text>
<text class="t" x="899" y="1620.4" text-anchor="middle">100</text>
<text class="t" x="1234" y="1620.4" text-anchor="middle">150</text>
<text class="t" x="1569" y="1620.4" text-anchor="middle">200</text>
<text class="t" x="1904" y="1620.4" text-anchor="middle">250</text>
<text class="t" x="2239" y="1620.4" text-anchor="middle">300</text>
<text class="t" x="211.5" y="1170.2" text-anchor="end">200</text>
<text class="t" x="211.5" y="1369.7" text-anchor="end">0</text>
<text class="t" x="211.5" y="1570.8" text-anchor="end">-200</text>
<text class="l" transform="translate(81 1444.5) rotate(-90)">Yaw / <tspan class="d" dx="1.9" dy="10.4">°</tspan></text>
</g>
<text class="l" x="1231" y="1696" text-anchor="middle">Time / s</text>
</svg>
</body></html>
